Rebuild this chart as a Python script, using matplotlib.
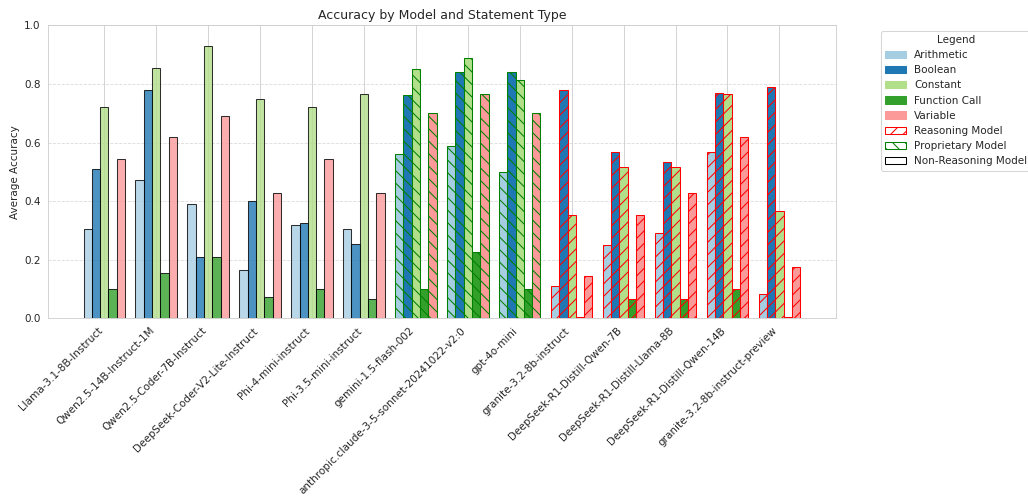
import numpy as np
import matplotlib
matplotlib.use("Agg")
import matplotlib.pyplot as plt
import matplotlib.patches as mpatches
import seaborn as sns

# model names and which kind of model they are
models = [
    "Llama-3.1-8B-Instruct", "Qwen2.5-14B-Instruct-1M", "Qwen2.5-Coder-7B-Instruct",
    "DeepSeek-Coder-V2-Lite-Instruct", "Phi-4-mini-instruct", "Phi-3.5-mini-instruct",
    "gemini-1.5-flash-002", "anthropic.claude-3-5-sonnet-20241022-v2:0", "gpt-4o-mini",
    "granite-3.2-8b-instruct", "DeepSeek-R1-Distill-Qwen-7B", "DeepSeek-R1-Distill-Llama-8B",
    "DeepSeek-R1-Distill-Qwen-14B", "granite-3.2-8b-instruct-preview",
]
model_types = ["non"] * 6 + ["prop"] * 3 + ["reason"] * 5

statement_types = ["Arithmetic", "Boolean", "Constant", "Function Call", "Variable"]

arithmetic = [0.306, 0.472, 0.389, 0.166, 0.319, 0.306, 0.562, 0.588, 0.500,
              0.111, 0.250, 0.292, 0.569, 0.083]
boolean = [0.511, 0.779, 0.210, 0.399, 0.324, 0.255, 0.763, 0.839, 0.839,
           0.778, 0.567, 0.534, 0.768, 0.790]
constant = [0.721, 0.853, 0.928, 0.750, 0.721, 0.765, 0.852, 0.888, 0.814,
            0.353, 0.515, 0.515, 0.765, 0.367]
function_call = [0.100, 0.153, 0.210, 0.073, 0.100, 0.067, 0.100, 0.226, 0.100,
                 0.005, 0.065, 0.065, 0.100, 0.005]
variable = [0.545, 0.618, 0.692, 0.426, 0.545, 0.426, 0.700, 0.764, 0.700,
            0.146, 0.353, 0.426, 0.618, 0.176]

values = [arithmetic, boolean, constant, function_call, variable]
colors = ["#a6cee3", "#1f78b4", "#b2df8a", "#33a02c", "#fb9a99"]

# bar style per model kind
styles = {
    "non": dict(edgecolor="black", hatch="", alpha=0.8),
    "prop": dict(edgecolor="green", hatch="\\\\", alpha=1.0),
    "reason": dict(edgecolor="red", hatch="//", alpha=1.0),
}

sns.set_style("whitegrid")
dpi = 75
fig, ax = plt.subplots(figsize=(1028 / dpi, 498 / dpi), dpi=dpi)
fig.subplots_adjust(left=0.0464, right=0.8132, bottom=0.3608, top=0.9492)

x = np.arange(len(models))
width = 0.16
for j, (vals, col) in enumerate(zip(values, colors)):
    for i, v in enumerate(vals):
        st = styles[model_types[i]]
        ax.bar(x[i] + (j - 2) * width, v, width, color=col, linewidth=1, **st)

ax.set_xticks(x)
ax.set_xticklabels(models, rotation=45, ha="right")
ax.set_ylim(0, 1.0)
ax.set_ylabel("Average Accuracy")
ax.set_title("Accuracy by Model and Statement Type")
ax.yaxis.grid(True, linestyle="--", alpha=0.7)

handles = [mpatches.Patch(color=c, label=s) for c, s in zip(colors, statement_types)]
handles += [
    mpatches.Patch(facecolor="white", edgecolor="red", hatch="//", label="Reasoning Model"),
    mpatches.Patch(facecolor="white", edgecolor="green", hatch="\\\\", label="Proprietary Model"),
    mpatches.Patch(facecolor="white", edgecolor="black", label="Non-Reasoning Model"),
]
ax.legend(handles=handles, title="Legend", bbox_to_anchor=(1.05, 1), loc="upper left")

fig.savefig("out.png", dpi=dpi)
